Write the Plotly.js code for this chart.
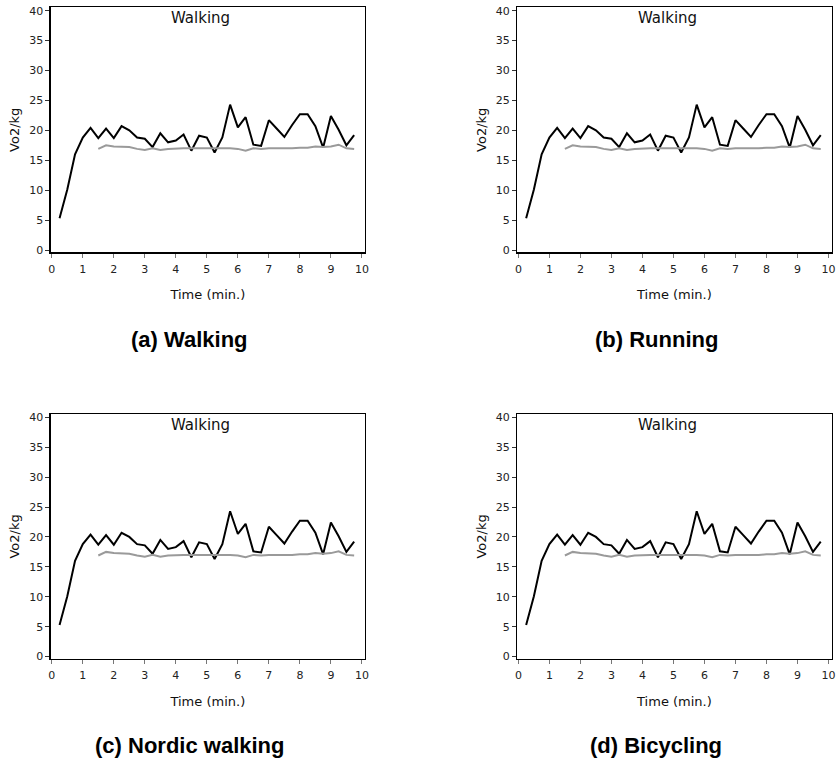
<!DOCTYPE html>
<html>
<head>
<meta charset="utf-8">
<script src="https://cdn.plot.ly/plotly-3.0.1.min.js"></script>
<style>html,body{margin:0;padding:0;background:#fff;}#chart{width:836px;height:765px;}</style>
</head>
<body>
<div id="chart"></div>
<script>
// ---- Data ----
const panelCaptions = ["(a) Walking", "(b) Running", "(c) Nordic walking", "(d) Bicycling"];
const innerTitle = "Walking";
const xTitle = "Time (min.)";
const yTitle = "Vo2/kg";
const timeMeasured = [0.25,0.5,0.75,1.0,1.25,1.5,1.75,2.0,2.25,2.5,2.75,3.0,3.25,3.5,3.75,4.0,4.25,4.5,4.75,5.0,
  5.25,5.5,5.75,6.0,6.25,6.5,6.75,7.0,7.25,7.5,7.75,8.0,8.25,8.5,8.75,9.0,9.25,9.5,9.75];
const vo2Measured = [5.3,10.1,16.0,18.8,20.4,18.7,20.3,18.7,20.7,20.0,18.8,18.6,17.2,19.5,18.0,18.3,19.3,16.6,19.1,18.8,
  16.3,18.8,24.3,20.5,22.2,17.6,17.4,21.7,20.3,18.9,20.9,22.7,22.7,20.7,17.1,22.4,20.1,17.5,19.2];
const timeEstimated = [1.5,1.75,2.0,2.25,2.5,2.75,3.0,3.25,3.5,3.75,4.0,4.25,4.5,4.75,5.0,5.25,5.5,5.75,6.0,6.25,
  6.5,6.75,7.0,7.25,7.5,7.75,8.0,8.25,8.5,8.75,9.0,9.25,9.5,9.75];
const vo2Estimated = [16.9,17.5,17.3,17.2,17.2,16.9,16.7,17.0,16.7,16.9,17.0,17.0,17.0,17.0,17.1,17.0,17.0,17.0,16.9,16.6,
  17.0,16.9,17.0,17.0,16.9,17.0,17.1,17.1,17.3,17.2,17.3,17.6,17.0,16.9];
const xTicks = [0,1,2,3,4,5,6,7,8,9,10];
const yTicks = [0,5,10,15,20,25,30,35,40];

// ---- Layout geometry (pixels) ----
const W = 836, H = 765;
const cols = [[50.7, 365.0], [517.3, 831.6]];
const rows = [[7.3, 252.3], [413.9, 658.9]];
const FONT = "DejaVu Sans, Verdana, sans-serif";

const traces = [];
const layout = {
  width: W, height: H,
  margin: {l: 0, r: 0, t: 0, b: 0},
  paper_bgcolor: "#fff", plot_bgcolor: "#fff",
  showlegend: false,
  annotations: [],
  font: {family: FONT, color: "#111"}
};

for (let i = 0; i < 4; i++) {
  const c = cols[i % 2], r = rows[Math.floor(i / 2)];
  const sfx = i === 0 ? "" : String(i + 1);
  const xa = "x" + sfx, ya = "y" + sfx;
  traces.push({x: timeMeasured, y: vo2Measured, xaxis: xa, yaxis: ya, type: "scatter", mode: "lines",
    line: {color: "#000", width: 2}, hoverinfo: "skip"});
  traces.push({x: timeEstimated, y: vo2Estimated, xaxis: xa, yaxis: ya, type: "scatter", mode: "lines",
    line: {color: "#9a9a9a", width: 2}, hoverinfo: "skip"});
  const axCommon = {showgrid: false, zeroline: false, showline: true, linecolor: "#000", linewidth: 1.3,
    mirror: true, ticks: "outside", ticklen: 4, tickwidth: 1, automargin: false,
    tickfont: {family: FONT, size: 11, color: "#222"}, fixedrange: true};
  layout["xaxis" + sfx] = Object.assign({}, axCommon, {
    domain: [c[0] / W, c[1] / W], anchor: ya, range: [-0.035, 10.1],
    tickvals: xTicks, ticktext: xTicks.map(String), tickcolor: "#777", ticklabelstandoff: 2,
    title: {text: xTitle, font: {family: FONT, size: 13, color: "#111"}, standoff: 15}
  });
  layout["yaxis" + sfx] = Object.assign({}, axCommon, {
    domain: [1 - r[1] / H, 1 - r[0] / H], anchor: xa, range: [-0.38, 40.56],
    tickvals: yTicks, ticktext: yTicks.map(String), tickcolor: "#333",
    title: {text: yTitle, font: {family: FONT, size: 13, color: "#111"}, standoff: 6}
  });
  layout.annotations.push({xref: xa, yref: ya, x: 4.8, y: 38.7, text: innerTitle, showarrow: false,
    font: {family: FONT, size: 15, color: "#111"}, xanchor: "center", yanchor: "middle"});
  const capX = ((c[0] + c[1]) / 2 - 18) / W;
  const capY = 1 - (r[1] + 87) / H;
  layout.annotations.push({xref: "paper", yref: "paper", x: capX, y: capY, text: "<b>" + panelCaptions[i] + "</b>",
    showarrow: false, font: {family: "Liberation Sans, Arial, sans-serif", size: 22, color: "#000"},
    xanchor: "center", yanchor: "middle"});
}

Plotly.newPlot("chart", traces, layout, {displayModeBar: false, staticPlot: true});
</script>
</body>
</html>
